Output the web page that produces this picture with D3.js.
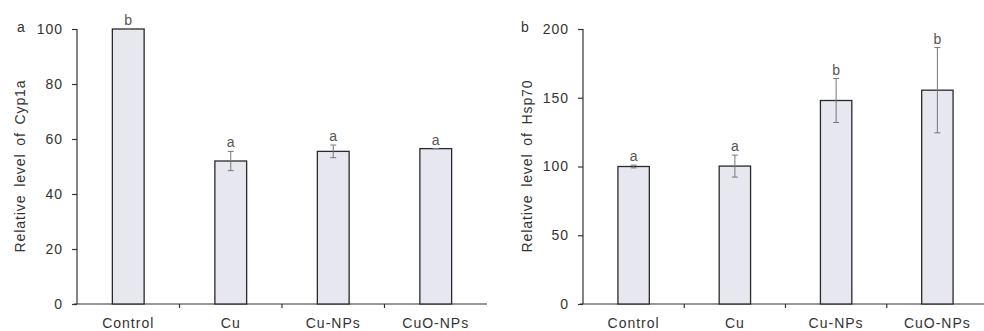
<!DOCTYPE html>
<html>
<head>
<meta charset="utf-8">
<script src="https://cdn.jsdelivr.net/npm/d3@7"></script>
<style>
  body { margin: 0; background: #fff; }
  svg text { font-family: "Liberation Sans", Arial, sans-serif; fill: #333; }
  .axis path, .axis line { stroke: #333; stroke-width: 1.2; }
</style>
</head>
<body>
<svg id="chart" width="984" height="331"></svg>
<script>
// groups shared by both panels
var groups = ["Control", "Cu", "Cu-NPs", "CuO-NPs"];

// panel a: Cyp1a
var cypMean = [100, 52, 55.5, 56.5];
var cypErr = [0, 3.5, 2.3, 0];
var cypLetters = ["b", "a", "a", "a"];
var cypTicks = [0, 20, 40, 60, 80, 100];

// panel b: Hsp70
var hspMean = [100, 100.3, 148, 155.5];
var hspErr = [1, 8, 16, 31];
var hspLetters = ["a", "a", "b", "b"];
var hspTicks = [0, 50, 100, 150, 200];

var svg = d3.select("#chart");

function panel(opt) {
    var g = svg.append("g").attr("transform", "translate(" + opt.left + ",0)");

    var x = d3.scaleBand().domain(groups).range([0, opt.width]).paddingInner(0.69).paddingOuter(0.345);
    var y = d3.scaleLinear().domain([0, opt.max]).range([304, 29]);

    // y axis
    var yAxis = d3.axisLeft(y).tickValues(opt.ticks).tickSize(5).tickPadding(9).tickSizeOuter(0);
    var ya = g.append("g").attr("class", "axis").call(yAxis);
    ya.select(".domain").remove();
    ya.append("line").attr("x1", 0).attr("x2", 0).attr("y1", y(opt.max)).attr("y2", y(0)).attr("stroke", "#333").attr("stroke-width", 1.2);
    ya.selectAll("text").attr("font-size", 14).attr("letter-spacing", 1).style("fill", "#333");

    // x axis with ticks between groups
    var xa = g.append("g").attr("class", "axis").attr("transform", "translate(0," + y(0) + ")");
    xa.append("line").attr("x1", -3).attr("x2", opt.width).attr("stroke", "#333").attr("stroke-width", 1.2);
    xa.selectAll(".sep").data(groups.slice(1)).enter().append("line")
        .attr("x1", function(d) { return x(d) - x.step() * x.paddingInner() / 2; })
        .attr("x2", function(d) { return x(d) - x.step() * x.paddingInner() / 2; })
        .attr("y1", 0).attr("y2", 4).attr("stroke", "#333");
    xa.selectAll(".lab").data(groups).enter().append("text")
        .attr("x", function(d) { return x(d) + x.bandwidth() / 2; })
        .attr("y", 24)
        .attr("text-anchor", "middle")
        .attr("font-size", 14).attr("letter-spacing", 1)
        .text(function(d) { return d; });

    // bars
    g.selectAll(".bar").data(opt.mean).enter().append("rect")
        .attr("x", function(d, i) { return x(groups[i]); })
        .attr("y", function(d) { return y(d); })
        .attr("width", x.bandwidth())
        .attr("height", function(d) { return y(0) - y(d); })
        .attr("fill", "#e7e7ef")
        .attr("stroke", "#2a2a2a")
        .attr("stroke-width", 1.3);

    // error bars
    var eb = g.selectAll(".err").data(opt.mean).enter().append("g")
        .attr("transform", function(d, i) { return "translate(" + (x(groups[i]) + x.bandwidth() / 2) + ",0)"; });
    eb.append("line")
        .attr("y1", function(d, i) { return y(d - opt.err[i]); })
        .attr("y2", function(d, i) { return y(d + opt.err[i]); })
        .attr("stroke", "#777").attr("stroke-width", 1);
    [-1, 1].forEach(function(s) {
        eb.append("line")
            .attr("x1", -3).attr("x2", 3)
            .attr("y1", function(d, i) { return y(d + s * opt.err[i]); })
            .attr("y2", function(d, i) { return y(d + s * opt.err[i]); })
            .attr("stroke", "#777").attr("stroke-width", 1);
    });

    // significance letters
    g.selectAll(".sig").data(opt.mean).enter().append("text")
        .attr("x", function(d, i) { return x(groups[i]) + x.bandwidth() / 2; })
        .attr("y", function(d, i) { return y(d + opt.err[i]) - 4; })
        .attr("text-anchor", "middle")
        .attr("font-size", 14)
        .style("fill", "#555")
        .text(function(d, i) { return opt.letters[i]; });

    // y title
    g.append("text")
        .attr("transform", "translate(" + opt.titleX + ",166) rotate(-90)")
        .attr("text-anchor", "middle")
        .attr("font-size", 14).attr("letter-spacing", 0.9).attr("word-spacing", 3)
        .text(opt.title);

    // panel letter
    g.append("text")
        .attr("x", opt.labelX).attr("y", 32)
        .attr("font-size", 14)
        .text(opt.label);
}

panel({ left: 77, width: 410, max: 100, ticks: cypTicks, mean: cypMean, err: cypErr,
        letters: cypLetters, title: "Relative level of Cyp1a", titleX: -52, label: "a", labelX: -60 });
panel({ left: 583, width: 405, max: 200, ticks: hspTicks, mean: hspMean, err: hspErr,
        letters: hspLetters, title: "Relative level of Hsp70", titleX: -51, label: "b", labelX: -62 });
</script>
</body>
</html>
